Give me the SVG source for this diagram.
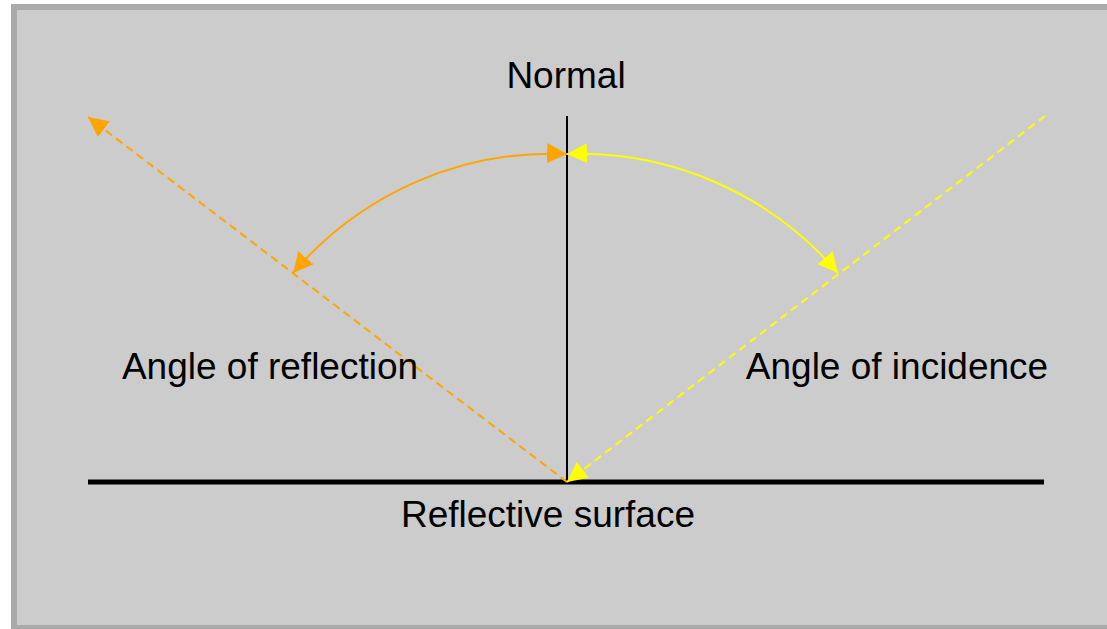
<svg xmlns="http://www.w3.org/2000/svg" width="1107" height="629" viewBox="0 0 1107 629">
<style>
.lbl{font-family:"Liberation Sans",Arial,Helvetica,sans-serif;font-size:37px;fill:#000;text-anchor:middle}
.ray{fill:none;stroke-width:2;stroke-dasharray:8,5}
.arc{fill:none;stroke-width:2}
</style>
<defs>
<marker id="ao" viewBox="0 0 20 20" refX="20" refY="10" markerWidth="20" markerHeight="20" markerUnits="userSpaceOnUse" orient="auto-start-reverse"><path d="M0,0 L20,10 L0,20 z" fill="#FFA500" stroke="none"/></marker>
<marker id="ay" viewBox="0 0 20 20" refX="20" refY="10" markerWidth="20" markerHeight="20" markerUnits="userSpaceOnUse" orient="auto-start-reverse"><path d="M0,0 L20,10 L0,20 z" fill="#FFFF00" stroke="none"/></marker>
</defs>
<rect id="background" x="14" y="7" width="1100" height="621" fill="#cccccc" stroke="#aaaaaa" stroke-width="6"/>
<g id="connectors">
<line x1="567" y1="116" x2="567" y2="482" stroke="#000" stroke-width="2"/>
<line x1="88" y1="482" x2="1044" y2="482" stroke="#000" stroke-width="5"/>
<path class="ray" d="M567,482 L88,117" stroke="#FFA500" marker-end="url(#ao)"/>
<path class="ray" d="M1045,116 L567,482" stroke="#FFFF00" marker-end="url(#ay)"/>
<path class="arc" d="M567,154 A340,340 0 0 0 293,273" stroke="#FFA500" marker-start="url(#ao)" marker-end="url(#ao)"/>
<path class="arc" d="M567,154 A340,340 0 0 1 838,273" stroke="#FFFF00" marker-start="url(#ay)" marker-end="url(#ay)"/>
</g>
<g id="normal"><text class="lbl" x="566" y="88">Normal</text></g>
<g id="reflection"><text class="lbl" x="270" y="379">Angle of reflection</text></g>
<g id="incidence"><text class="lbl" x="897" y="379">Angle of incidence</text></g>
<g id="surface"><text class="lbl" x="548" y="527">Reflective surface</text></g>
</svg>
